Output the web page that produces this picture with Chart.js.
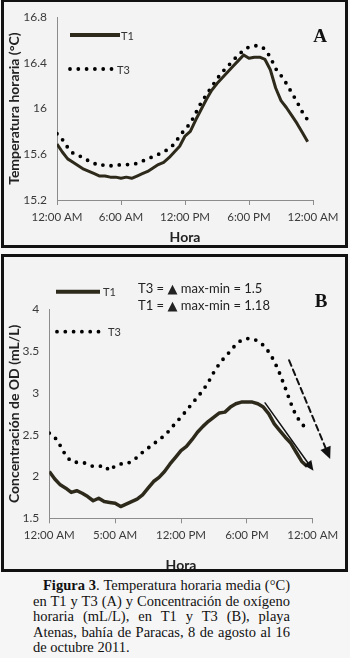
<!DOCTYPE html>
<html>
<head>
<meta charset="utf-8">
<script src="https://cdn.jsdelivr.net/npm/chart.js@4.4.1/dist/chart.umd.min.js"></script>
<style>
 html, body { margin: 0; padding: 0; background: #f6f6f6; }
 body { width: 350px; height: 658px; position: relative; overflow: hidden; }
 .bg { position: absolute; left: 1px; width: 347px; background: #f3f3f3; }
 .frame { position: absolute; left: 1px; width: 347px; box-sizing: border-box; border: 3px solid #111; pointer-events: none; z-index: 2; }
 canvas { position: absolute; left: 0; z-index: 1; }
 #caption { position: absolute; left: 33px; top: 578px; width: 257px; font: 14.5px "Liberation Serif", "Times New Roman", serif; color: #111; line-height: 15.5px; }
 #caption div { text-align: justify; text-align-last: justify; white-space: nowrap; }
 #caption div.first { margin-left: 10px; }
 #caption div.last { text-align-last: left; }
</style>
</head>
<body>
<div class="bg" style="top:0;height:248px"></div>
<canvas id="tempChart" width="350" height="248" style="top:0"></canvas>
<div class="frame" style="top:-1px;height:249px"></div>

<div class="bg" style="top:254px;height:318px"></div>
<canvas id="odChart" width="350" height="318" style="top:254px"></canvas>
<div class="frame" style="top:254px;height:318px"></div>

<div id="caption">
 <div class="first"><b>Figura 3</b>. Temperatura horaria media (°C)</div>
 <div>en T1 y T3 (A) y Concentración de oxígeno</div>
 <div>horaria (mL/L), en T1 y T3 (B), playa</div>
 <div>Atenas, bahía de Paracas, 8 de agosto al 16</div>
 <div class="last">de octubre 2011.</div>
</div>

<script>
// hour of day (half-hourly readings)
var hours = [0, 0.5, 1, 1.5, 2, 2.5, 3, 3.5, 4, 4.5, 5, 5.5, 6, 6.5, 7, 7.5, 8, 8.5, 9, 9.5,
 10, 10.5, 11, 11.5, 12, 12.5, 13, 13.5, 14, 14.5, 15, 15.5, 16, 16.5, 17, 17.5, 18, 18.5, 19, 19.5,
 20, 20.5, 21, 21.5, 22, 22.5, 23, 23.5];

// A - temperatura horaria (°C)
var tempT1 = [15.69, 15.62, 15.56, 15.53, 15.50, 15.47, 15.45, 15.43, 15.41, 15.41,
 15.40, 15.40, 15.39, 15.40, 15.39, 15.41, 15.43, 15.45, 15.48, 15.51,
 15.53, 15.57, 15.62, 15.67, 15.76, 15.80, 15.90, 15.99, 16.08, 16.16,
 16.22, 16.27, 16.32, 16.37, 16.42, 16.47, 16.44, 16.45, 16.45, 16.43,
 16.34, 16.18, 16.07, 16.01, 15.94, 15.87, 15.79, 15.71];
var tempT3 = [15.78, 15.73, 15.66, 15.61, 15.59, 15.57, 15.54, 15.52, 15.50, 15.51,
 15.50, 15.50, 15.51, 15.51, 15.51, 15.52, 15.54, 15.56, 15.58, 15.60,
 15.62, 15.65, 15.69, 15.76, 15.82, 15.87, 15.96, 16.05, 16.12, 16.19,
 16.26, 16.32, 16.37, 16.42, 16.47, 16.51, 16.54, 16.55, 16.55, 16.52,
 16.45, 16.35, 16.29, 16.22, 16.14, 16.06, 15.97, 15.90];

// B - concentracion de OD (mL/L)
var odT1 = [2.06, 1.97, 1.90, 1.86, 1.81, 1.83, 1.80, 1.76, 1.71, 1.74,
 1.70, 1.69, 1.68, 1.64, 1.67, 1.70, 1.73, 1.78, 1.86, 1.94,
 1.99, 2.06, 2.15, 2.23, 2.31, 2.36, 2.44, 2.53, 2.60, 2.66,
 2.71, 2.76, 2.77, 2.83, 2.87, 2.89, 2.89, 2.89, 2.87, 2.83,
 2.75, 2.63, 2.55, 2.47, 2.40, 2.29, 2.18, 2.12];
var odT3 = [2.52, 2.47, 2.37, 2.25, 2.18, 2.17, 2.17, 2.15, 2.12, 2.12,
 2.13, 2.07, 2.13, 2.15, 2.15, 2.18, 2.23, 2.29, 2.34, 2.39,
 2.44, 2.49, 2.56, 2.64, 2.71, 2.79, 2.87, 2.95, 3.03, 3.13,
 3.25, 3.35, 3.43, 3.50, 3.58, 3.63, 3.65, 3.65, 3.62, 3.57,
 3.49, 3.38, 3.23, 3.06, 2.88, 2.72, 2.64, 2.54];

var xLabelsA = ["12:00 AM", "6:00 AM", "12:00 PM", "6:00 PM", "12:00 AM"];
var xLabelsB = ["12:00 AM", "5:00 AM", "12:00 PM", "6:00 PM", "12:00 AM"];
var tempTicks = [15.2, 15.6, 16, 16.4, 16.8];
var odTicks = [1.5, 2, 2.5, 3, 3.5, 4];

// trend arrows drawn on panel B, in data units
var arrowsB = [
 { from: [19.66, 2.88], to: [24.07, 2.07], dashed: false },
 { from: [21.85, 3.39], to: [25.59, 2.21], dashed: true },
];

var lineColor = "#2e2a1b";
var axisColor = "#8c8c8c";
var tickColor = "#3a3a3a";
var sans = "Lato, 'DejaVu Sans', sans-serif";

function toPoints(values) {
 return values.map(function (v, i) {
  return { x: hours[i], y: v };
 });
}

function dotted(ctx) {
 ctx.setLineDash([0, 8.3]);
 ctx.lineCap = "round";
}

// legend, panel letter and notes are drawn by hand, like the excel original
var decorPlugin = {
 id: "decor",
 afterDraw: function (chart, args, opts) {
  var ctx = chart.ctx;
  ctx.save();
  opts.legend.forEach(function (item) {
   ctx.beginPath();
   ctx.strokeStyle = item.dotted ? "#000" : lineColor;
   ctx.lineWidth = item.dotted ? 3.8 : 4;
   if (item.dotted) dotted(ctx);
   ctx.moveTo(item.x0, item.y);
   ctx.lineTo(item.x1, item.y);
   ctx.stroke();
   ctx.setLineDash([]);
   ctx.fillStyle = "#333";
   ctx.font = "11px " + sans;
   ctx.textAlign = "left";
   ctx.textBaseline = "middle";
   ctx.fillText(item.text, item.tx, item.y + 1);
  });

  (opts.notes || []).forEach(function (n) {
   ctx.fillStyle = "#222";
   ctx.font = "13px " + sans;
   ctx.textAlign = "left";
   ctx.textBaseline = "middle";
   ctx.fillText(n.text, n.x, n.y);
  });

  ctx.fillStyle = "#111";
  ctx.font = "bold 19px 'Liberation Serif', serif";
  ctx.textAlign = "center";
  ctx.textBaseline = "middle";
  ctx.fillText(opts.letter.text, opts.letter.x, opts.letter.y);

  var xs = chart.scales.x, ys = chart.scales.y;
  (opts.arrows || []).forEach(function (a) {
   var x0 = xs.getPixelForValue(a.from[0]), y0 = ys.getPixelForValue(a.from[1]);
   var x1 = xs.getPixelForValue(a.to[0]), y1 = ys.getPixelForValue(a.to[1]);
   var ang = Math.atan2(y1 - y0, x1 - x0);
   var head = a.dashed ? 12 : 10, half = a.dashed ? 5.5 : 4.5;
   var bx = x1 - head * Math.cos(ang), by = y1 - head * Math.sin(ang);
   ctx.beginPath();
   ctx.strokeStyle = "#111";
   ctx.lineWidth = a.dashed ? 2 : 1.5;
   ctx.setLineDash(a.dashed ? [6, 4] : []);
   ctx.moveTo(x0, y0);
   ctx.lineTo(bx, by);
   ctx.stroke();
   ctx.setLineDash([]);
   ctx.beginPath();
   ctx.fillStyle = "#111";
   ctx.moveTo(x1, y1);
   ctx.lineTo(bx + half * Math.sin(ang), by - half * Math.cos(ang));
   ctx.lineTo(bx - half * Math.sin(ang), by + half * Math.cos(ang));
   ctx.closePath();
   ctx.fill();
  });
  ctx.restore();
 },
};

function buildChart(el, cfg) {
 return new Chart(el, {
  type: "line",
  data: {
   datasets: [
    {
     label: "T1",
     data: toPoints(cfg.t1),
     borderColor: lineColor,
     borderWidth: cfg.t1Width,
     borderJoinStyle: "round",
     pointRadius: 0,
     tension: 0,
    },
    {
     label: "T3",
     data: toPoints(cfg.t3),
     borderColor: "#000",
     borderWidth: 3.8,
     borderDash: [0, 8.3],
     borderCapStyle: "round",
     pointRadius: 0,
     tension: 0,
    },
   ],
  },
  options: {
   responsive: false,
   animation: false,
   devicePixelRatio: 1,
   layout: { padding: cfg.padding },
   plugins: {
    legend: { display: false },
    tooltip: { enabled: false },
    decor: cfg.decor,
   },
   scales: {
    x: {
     type: "linear",
     min: 0,
     max: 24,
     afterFit: function (s) { s.height = cfg.xHeight; },
     ticks: {
      stepSize: 6,
      maxRotation: 0,
      autoSkip: false,
      padding: 5,
      color: tickColor,
      font: { family: sans, size: 11.5 },
      callback: function (v, i) { return cfg.xLabels[i]; },
     },
     grid: { drawOnChartArea: false, drawTicks: true, tickLength: 5, color: axisColor },
     border: { color: axisColor },
     title: {
      display: true,
      text: "Hora",
      color: "#222",
      font: { family: sans, size: 14, weight: "bold" },
      padding: { top: 0, bottom: cfg.horaPad },
     },
    },
    y: {
     min: cfg.yTicks[0],
     max: cfg.yTicks[cfg.yTicks.length - 1],
     afterFit: function (s) { s.width = cfg.yWidth; },
     afterBuildTicks: function (s) {
      s.ticks = cfg.yTicks.map(function (v) { return { value: v }; });
     },
     ticks: {
      padding: 10,
      color: tickColor,
      font: { family: sans, size: 12 },
      callback: function (v) { return String(Math.round(v * 10) / 10); },
     },
     grid: { drawOnChartArea: false, drawTicks: false, color: axisColor },
     border: { color: axisColor },
     title: {
      display: true,
      text: cfg.yTitle,
      color: "#222",
      font: { family: sans, size: 14, weight: "bold" },
      padding: { top: 6, bottom: 0 },
     },
    },
   },
  },
  plugins: [decorPlugin],
 });
}

buildChart(document.getElementById("tempChart"), {
 t1: tempT1,
 t3: tempT3,
 t1Width: 3,
 xLabels: xLabelsA,
 yTicks: tempTicks,
 yTitle: "Temperatura horaria (°C)",
 padding: { left: 0, right: 37, top: 16, bottom: 0 },
 yWidth: 57,
 xHeight: 48,
 horaPad: 2.6,
 decor: {
  legend: [
   { x0: 70, x1: 120, y: 35, text: "T1", tx: 121, dotted: false },
   { x0: 70, x1: 112, y: 69, text: "T3", tx: 117, dotted: true },
  ],
  letter: { text: "A", x: 320, y: 37 },
 },
});

buildChart(document.getElementById("odChart"), {
 t1: odT1,
 t3: odT3,
 t1Width: 3.5,
 xLabels: xLabelsB,
 yTicks: odTicks,
 yTitle: "Concentración de OD (mL/L)",
 padding: { left: 0, right: 37.3, top: 55.3, bottom: 0 },
 yWidth: 49.3,
 xHeight: 53.7,
 horaPad: -1.4,
 decor: {
  legend: [
   { x0: 56, x1: 100, y: 37.7, text: "T1", tx: 103, dotted: false },
   { x0: 57, x1: 100, y: 77.7, text: "T3", tx: 108, dotted: true },
  ],
  notes: [
   { text: "T3 = \u25B2 max-min = 1.5", x: 138, y: 35 },
   { text: "T1 = \u25B2 max-min = 1.18", x: 138, y: 52 },
  ],
  letter: { text: "B", x: 321, y: 48.5 },
  arrows: arrowsB,
 },
});
</script>
</body>
</html>
